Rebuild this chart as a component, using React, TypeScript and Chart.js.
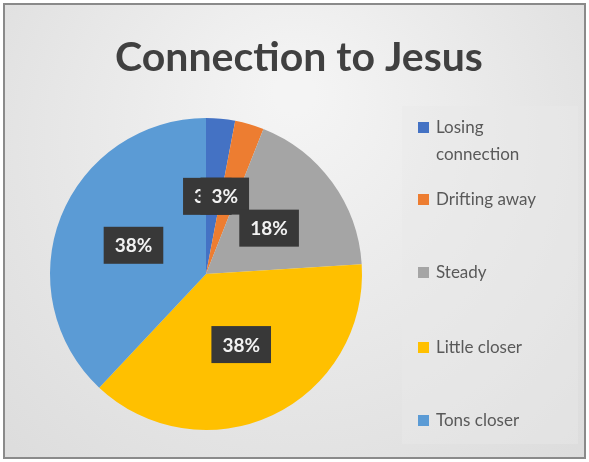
import React, { useEffect, useRef } from "react";
import { Chart, registerables } from "chart.js";

Chart.register(...registerables);

const titleText = "Connection to Jesus";
const categories = ["Losing connection", "Drifting away", "Steady", "Little closer", "Tons closer"];
const legendLines = [["Losing", "connection"], ["Drifting away"], ["Steady"], ["Little closer"], ["Tons closer"]];
const values = [3, 3, 18, 38, 38];
const valueLabels = ["3%", "3%", "18%", "38%", "38%"];
const colors = ["#4472C4", "#ED7D31", "#A5A5A5", "#FFC000", "#5B9BD5"];

const FONT = "Lato, 'Open Sans', sans-serif";

const decorPlugin = {
  id: "decor",
  beforeDraw(chart: any) {
    const { ctx, width, height } = chart;
    ctx.save();
    const g = ctx.createRadialGradient(width * 0.5, height * 0.2, 20, width * 0.5, height * 0.4, width * 0.75);
    g.addColorStop(0, "#f4f4f4");
    g.addColorStop(1, "#dadada");
    ctx.fillStyle = "#ffffff";
    ctx.fillRect(0, 0, width, height);
    ctx.fillStyle = g;
    ctx.fillRect(4, 4, width - 8, height - 8);
    ctx.strokeStyle = "#8a8a8a";
    ctx.lineWidth = 2;
    ctx.strokeRect(4, 4, width - 8, height - 8);
    ctx.fillStyle = "rgba(232,232,232,0.45)";
    ctx.fillRect(402, 106, 176, 338);
    ctx.fillStyle = "#404040";
    ctx.font = `bold 41px ${FONT}`;
    ctx.textAlign = "center";
    ctx.textBaseline = "middle";
    ctx.fillText(titleText, 299, 58);
    const ys = [128, 200, 273, 348, 421];
    ctx.font = `17px ${FONT}`;
    ctx.textAlign = "left";
    legendLines.forEach((lines, i) => {
      ctx.fillStyle = colors[i];
      ctx.fillRect(418, ys[i] - 6, 11, 11);
      ctx.fillStyle = "#595959";
      lines.forEach((t, j) => ctx.fillText(t, 436, ys[i] + j * 27));
    });
    ctx.restore();
  },
  afterDatasetsDraw(chart: any) {
    const { ctx } = chart;
    const meta = chart.getDatasetMeta(0);
    ctx.save();
    ctx.font = `bold 19px ${FONT}`;
    ctx.textAlign = "center";
    ctx.textBaseline = "middle";
    const nudge = [[-6, 0], [-3, -3], [0, 0], [2, 0], [0, 0]];
    meta.data.forEach((arc: any, i: number) => {
      const p = arc.getProps(["x", "y", "startAngle", "endAngle", "outerRadius"], true);
      const mid = (p.startAngle + p.endAngle) / 2;
      const r = p.outerRadius * 0.5;
      const cx = p.x + Math.cos(mid) * r + nudge[i][0];
      const cy = p.y + Math.sin(mid) * r + nudge[i][1];
      const t = valueLabels[i];
      const w = ctx.measureText(t).width + 22;
      const h = 37;
      ctx.fillStyle = "#383838";
      ctx.fillRect(cx - w / 2, cy - h / 2, w, h);
      ctx.fillStyle = "#f2f2f2";
      ctx.fillText(t, cx, cy + 1);
    });
    ctx.restore();
  },
};

export default function App() {
  const ref = useRef<HTMLCanvasElement>(null);
  useEffect(() => {
    document.body.style.margin = "0";
    const chart = new Chart(ref.current as HTMLCanvasElement, {
      type: "pie",
      data: {
        labels: categories,
        datasets: [
          {
            data: values,
            backgroundColor: colors,
            borderWidth: 0,
          },
        ],
      },
      options: {
        animation: false,
        responsive: false,
        maintainAspectRatio: false,
        layout: { padding: { left: 50, right: 227, top: 118, bottom: 32 } },
        plugins: {
          legend: { display: false },
          title: { display: false },
          tooltip: { enabled: false },
        },
      },
      plugins: [decorPlugin],
    });
    return () => chart.destroy();
  }, []);
  return (
    <div style={{ position: "fixed", left: 0, top: 0, width: 589, height: 462 }}>
      <canvas ref={ref} width={589} height={462} style={{ width: 589, height: 462, display: "block" }} />
    </div>
  );
}
